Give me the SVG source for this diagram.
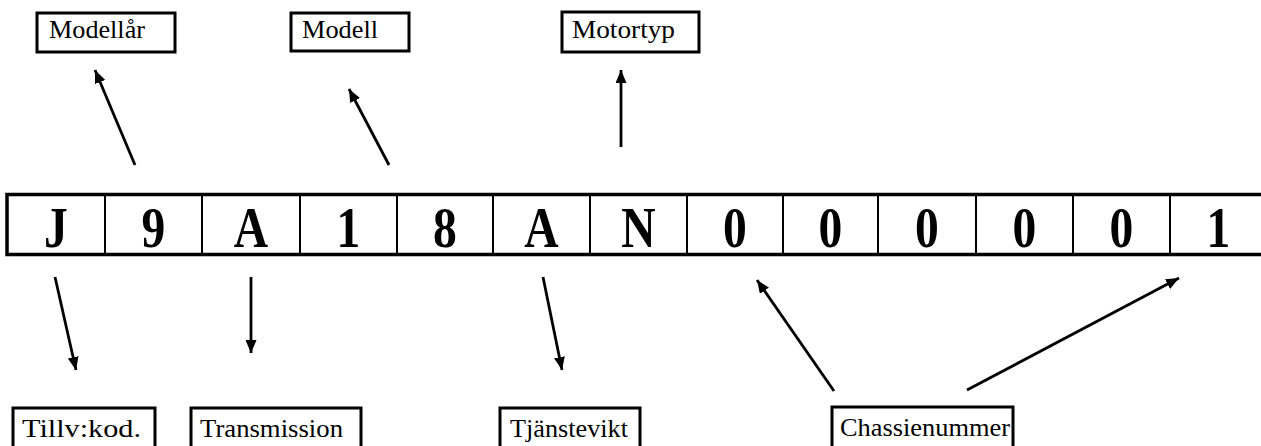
<svg xmlns="http://www.w3.org/2000/svg" width="1261" height="446" viewBox="0 0 1261 446">
<style>
.lbl{fill:#fff;stroke:#000;stroke-width:3}
.lt{font-family:"Liberation Serif","Times New Roman",serif;font-size:26px;fill:#000}
.ch{font-family:"Liberation Serif","Times New Roman",serif;font-size:58px;font-weight:bold;fill:#000;text-anchor:middle}
.div{stroke:#000;stroke-width:2}
.arr{stroke:#000;stroke-width:2.8;fill:none;marker-end:url(#ah)}
</style>
<defs>
<marker id="ah" markerUnits="userSpaceOnUse" markerWidth="13" markerHeight="11" refX="13" refY="5.5" orient="auto">
<path d="M0,0 L13,5.5 L0,11 z" fill="#000"/>
</marker>
</defs>
<rect width="1261" height="446" fill="#fff"/>
<g id="strip">
<rect x="7" y="194.5" width="1270" height="60" fill="#fff" stroke="#000" stroke-width="3.5"/>
<line class="div" x1="105" y1="195" x2="105" y2="254"/>
<line class="div" x1="202" y1="195" x2="202" y2="254"/>
<line class="div" x1="300" y1="195" x2="300" y2="254"/>
<line class="div" x1="397" y1="195" x2="397" y2="254"/>
<line class="div" x1="493" y1="195" x2="493" y2="254"/>
<line class="div" x1="590" y1="195" x2="590" y2="254"/>
<line class="div" x1="687" y1="195" x2="687" y2="254"/>
<line class="div" x1="783" y1="195" x2="783" y2="254"/>
<line class="div" x1="878" y1="195" x2="878" y2="254"/>
<line class="div" x1="976" y1="195" x2="976" y2="254"/>
<line class="div" x1="1073" y1="195" x2="1073" y2="254"/>
<line class="div" x1="1170" y1="195" x2="1170" y2="254"/>
<text class="ch" transform="translate(56,247) scale(0.82,1)">J</text>
<text class="ch" transform="translate(153.5,247) scale(0.82,1)">9</text>
<text class="ch" transform="translate(251,247) scale(0.82,1)">A</text>
<text class="ch" transform="translate(348.5,247) scale(0.82,1)">1</text>
<text class="ch" transform="translate(445,247) scale(0.82,1)">8</text>
<text class="ch" transform="translate(541.5,247) scale(0.82,1)">A</text>
<text class="ch" transform="translate(638.5,247) scale(0.82,1)">N</text>
<text class="ch" transform="translate(735,247) scale(0.82,1)">0</text>
<text class="ch" transform="translate(830.5,247) scale(0.82,1)">0</text>
<text class="ch" transform="translate(927,247) scale(0.82,1)">0</text>
<text class="ch" transform="translate(1024.5,247) scale(0.82,1)">0</text>
<text class="ch" transform="translate(1121.5,247) scale(0.82,1)">0</text>
<text class="ch" transform="translate(1218.5,247) scale(0.82,1)">1</text>
</g>
<g id="modellar">
<rect class="lbl" x="37" y="13" width="138" height="39"/>
<text class="lt" x="49" y="38" textLength="96" lengthAdjust="spacingAndGlyphs">Modellår</text>
</g>
<g id="modell">
<rect class="lbl" x="291" y="13" width="118" height="38"/>
<text class="lt" x="302" y="38" textLength="76" lengthAdjust="spacingAndGlyphs">Modell</text>
</g>
<g id="motortyp">
<rect class="lbl" x="562" y="12" width="137" height="40"/>
<text class="lt" x="572" y="38" textLength="103" lengthAdjust="spacingAndGlyphs">Motortyp</text>
</g>
<g id="tillvkod">
<rect class="lbl" x="13" y="408" width="142" height="50"/>
<text class="lt" x="22" y="437" textLength="119" lengthAdjust="spacingAndGlyphs">Tillv:kod.</text>
</g>
<g id="transmission">
<rect class="lbl" x="191" y="408" width="170" height="50"/>
<text class="lt" x="200" y="437" textLength="143" lengthAdjust="spacingAndGlyphs">Transmission</text>
</g>
<g id="tjanstevikt">
<rect class="lbl" x="500" y="408" width="140" height="50"/>
<text class="lt" x="510" y="437" textLength="118" lengthAdjust="spacingAndGlyphs">Tjänstevikt</text>
</g>
<g id="chassienummer">
<rect class="lbl" x="832" y="407" width="181" height="50"/>
<text class="lt" x="840" y="436" textLength="170" lengthAdjust="spacingAndGlyphs">Chassienummer</text>
</g>
<g id="connectors">
<line class="arr" x1="135" y1="165" x2="95" y2="70"/>
<line class="arr" x1="389" y1="165" x2="349" y2="89"/>
<line class="arr" x1="621" y1="147" x2="621" y2="70"/>
<line class="arr" x1="55" y1="277" x2="76" y2="370"/>
<line class="arr" x1="251" y1="277" x2="251" y2="353"/>
<line class="arr" x1="543" y1="277" x2="562" y2="370"/>
<line class="arr" x1="834" y1="391" x2="757" y2="280"/>
<line class="arr" x1="967" y1="390" x2="1179" y2="278"/>
</g>
</svg>
